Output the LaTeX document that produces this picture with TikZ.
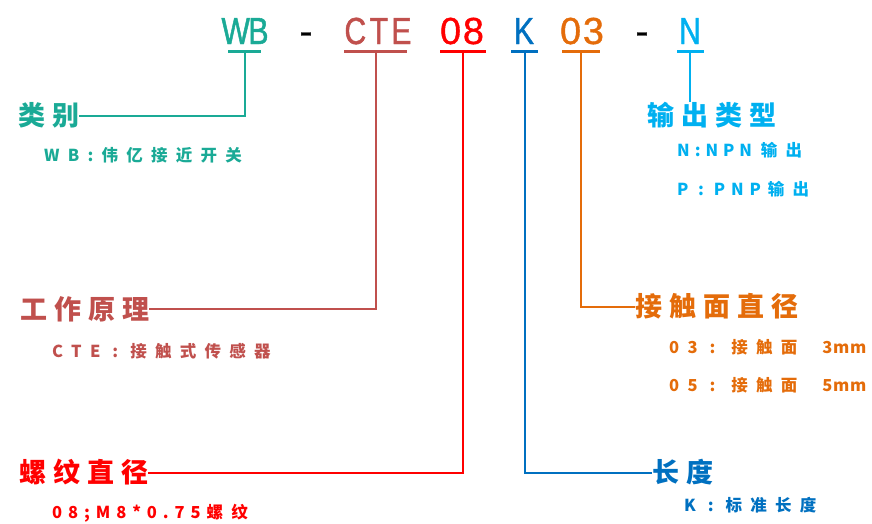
\documentclass[tikz,border=0pt]{standalone}
\usepackage{fontspec}
\setmainfont{Noto Sans CJK SC}
\newfontfamily\hdfont[LetterSpace=26]{Noto Sans CJK SC}
\newfontfamily\subfont[LetterSpace=50]{Noto Sans CJK SC}
\newfontfamily\subB[LetterSpace=30]{Noto Sans CJK SC}
\newfontfamily\subC[LetterSpace=36]{Noto Sans CJK SC}
\newfontfamily\subD[LetterSpace=4]{Noto Sans CJK SC}
\newfontfamily\codeL[FakeStretch=0.8,LetterSpace=9,FakeBold=1.2]{Liberation Sans}
\newfontfamily\codeD[LetterSpace=5,FakeBold=1]{Liberation Sans}
\definecolor{cA}{RGB}{26,170,150}
\definecolor{cB}{RGB}{192,80,77}
\definecolor{cC}{RGB}{255,0,0}
\definecolor{cD}{RGB}{0,112,192}
\definecolor{cE}{RGB}{228,108,10}
\definecolor{cF}{RGB}{0,176,240}
\newcommand{\subsz}{\bfseries\fontsize{16.5}{16.5}\selectfont}
\tikzset{
  codelet/.style={inner sep=0pt, anchor=base, font=\codeL\fontsize{37.7}{38}\selectfont},
  codedig/.style={inner sep=0pt, anchor=base, font=\codeD\fontsize{37.7}{38}\selectfont},
  hdtxt/.style={inner sep=0pt, anchor=west, font=\hdfont\bfseries\fontsize{27}{27}\selectfont},
  subtxt/.style={inner sep=0pt, anchor=west, font=\subfont\subsz},
  uline/.style={line width=3pt},
  conn/.style={line width=2pt}
}
\begin{document}
\begin{tikzpicture}[x=1pt,y=-1pt]
\useasboundingbox (0,0) rectangle (872,523);
% code tokens
\node[codelet, text=cA] (tWB) at (245,44) {W\kern-1.5pt B};
\node[codedig, text=black] (tD1) at (306,44) {-};
\node[codelet, text=cB] (tCTE) at (378,44) {CTE};
\node[codedig, text=cC] (t08) at (462,44) {08};
\node[codelet, text=cD] (tK) at (524,44) {K};
\node[codedig, text=cE] (t03) at (582,44) {03};
\node[codedig, text=black] (tD2) at (642,44) {-};
\node[codelet, text=cF] (tN) at (690,44) {N};
% underline coordinates
\coordinate (uAa) at (228,51.5); \coordinate (uAb) at (261,51.5); \coordinate (uAm) at (245,51.5);
\coordinate (uBa) at (344,51.5); \coordinate (uBb) at (407,51.5); \coordinate (uBm) at (376,51.5);
\coordinate (uCa) at (440,51.5); \coordinate (uCb) at (486,51.5); \coordinate (uCm) at (462.5,51.5);
\coordinate (uDa) at (511,51.5); \coordinate (uDb) at (538,51.5); \coordinate (uDm) at (525,51.5);
\coordinate (uEa) at (562,51.5); \coordinate (uEb) at (600,51.5); \coordinate (uEm) at (581,51.5);
\coordinate (uFa) at (677,51.5); \coordinate (uFb) at (704,51.5); \coordinate (uFm) at (690,51.5);
\draw[uline, cA] (uAa) -- (uAb);
\draw[uline, cB] (uBa) -- (uBb);
\draw[uline, cC] (uCa) -- (uCb);
\draw[uline, cD] (uDa) -- (uDb);
\draw[uline, cE] (uEa) -- (uEb);
\draw[uline, cF] (uFa) -- (uFb);
% headings
\node[hdtxt, text=cA] (hA) at (18,115.5) {类别};
\node[hdtxt, text=cB] (hB) at (20,309) {工作原理};
\node[hdtxt, text=cC] (hC) at (19,472.5) {螺纹直径};
\node[hdtxt, text=cD] (hD) at (652,472.5) {长度};
\node[hdtxt, text=cE] (hE) at (635,306.5) {接触面直径};
\node[hdtxt, text=cF] (hF) at (647,115.5) {输出类型};
% sub texts
\node[subtxt, text=cA] (sA) at (44,155.5) {WB:伟亿接近开关};
\node[subtxt, text=cF] (sF1) at (677,150.5) {{\subB\subsz N:NPN}\hspace{9pt}输出};
\node[subtxt, text=cF] (sF2) at (677,189.5) {{\subC\subsz P : PNP}\hspace{7pt}输出};
\node[subtxt, text=cB] (sB) at (52,351.5) {CTE : 接触式传感器};
\node[subtxt, text=cE] (sE1) at (669,347.5) {03 : 接触面\hspace{25pt}{\subD\subsz 3mm}};
\node[subtxt, text=cE] (sE2) at (669,385) {05 : 接触面\hspace{25pt}{\subD\subsz 5mm}};
\node[subtxt, text=cC] (sC) at (52,513.5) {{\subC\subsz 08;M8*0.75}\hspace{6pt}螺纹};
\node[subtxt, text=cD] (sD) at (684,505) {K : 标准长度};
% connectors
\draw[conn, cA] (uAm) |- (hA.east);
\draw[conn, cB] (uBm) |- (hB.east);
\draw[conn, cC] (uCm) |- (hC.east);
\draw[conn, cD] (uDm) |- (hD.west);
\draw[conn, cE] (uEm) |- (hE.west);
\draw[conn, cF] (uFm) -- (uFm |- hF.north);
\end{tikzpicture}
\end{document}
